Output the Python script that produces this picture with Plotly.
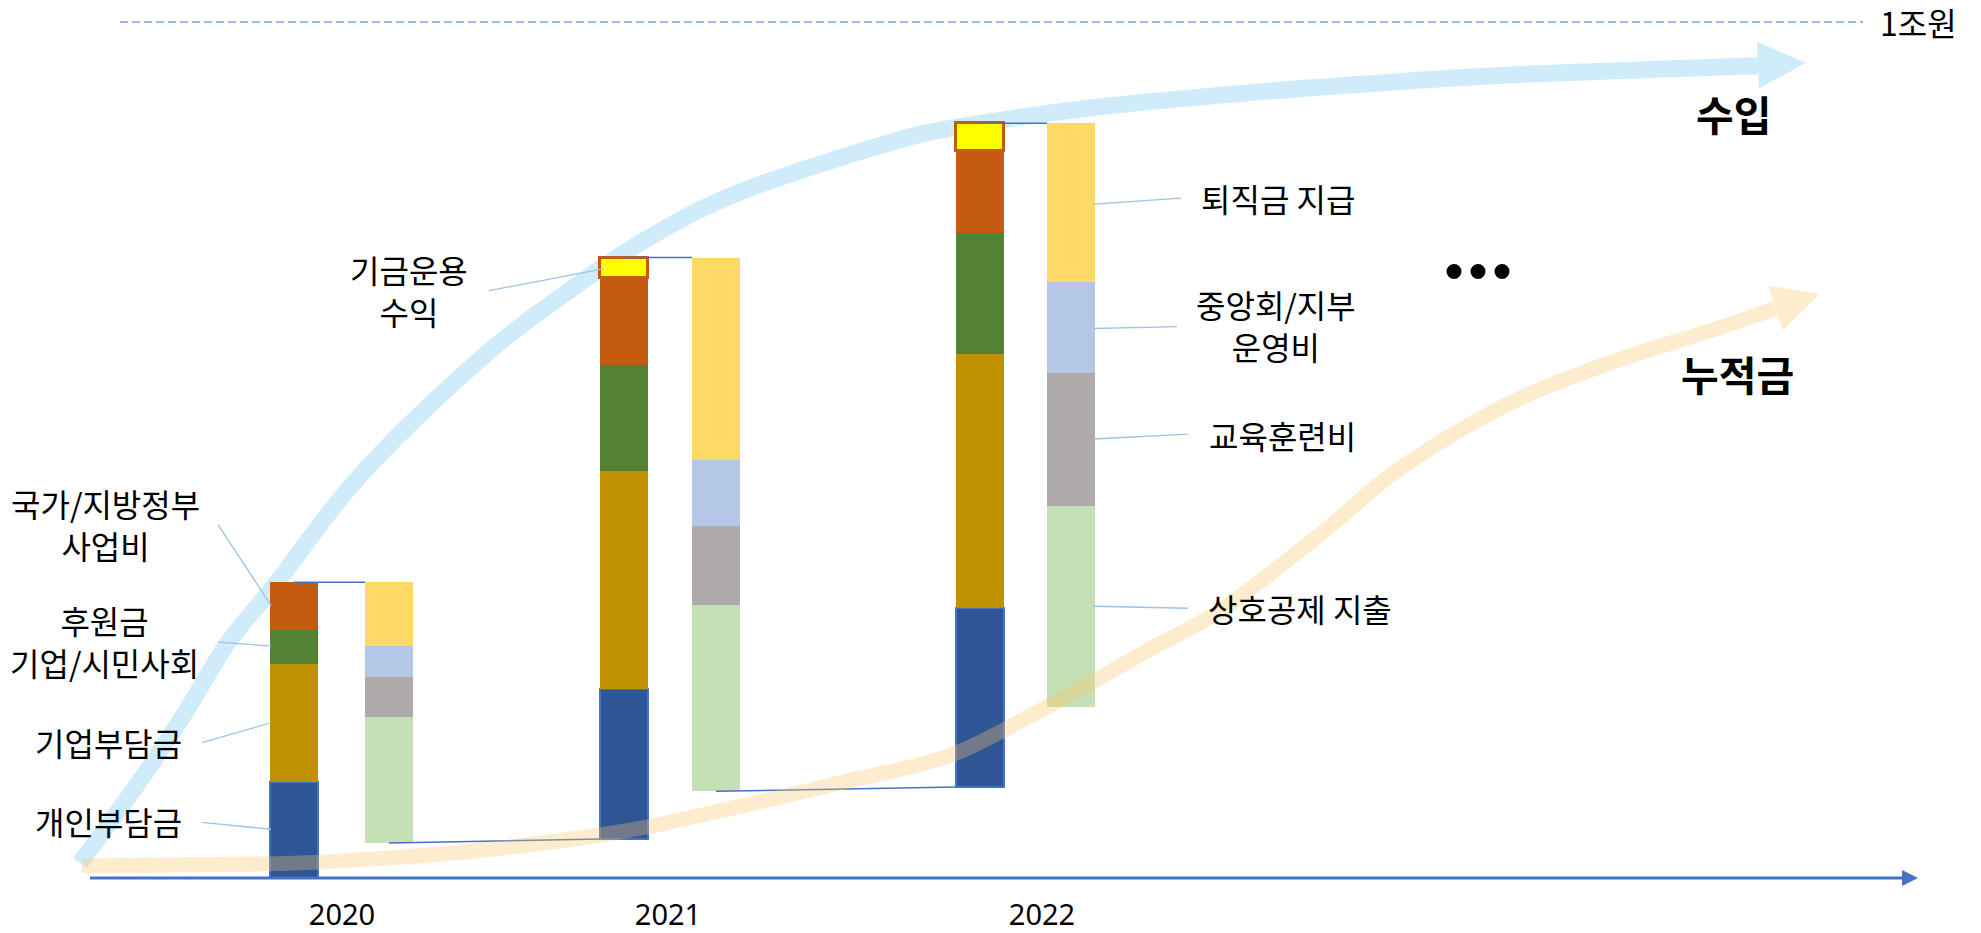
import plotly.graph_objects as go

# ---------------- data (단위: 억원, 그림에서 읽은 근사값) ----------------
years = [2020, 2021, 2022]
fund_start = [0, 455, 1064]                 # 연초 누적금 (수입 막대 시작점)
income_personal = [1120, 1754, 2092]        # 개인부담금
income_company = [1384, 2543, 2960]         # 기업부담금
income_donation = [388, 1240, 1419]         # 후원금 기업/시민사회
income_government = [562, 1022, 954]        # 국가/지방정부 사업비
income_investment = [0, 233, 326]           # 기금운용 수익
exp_retirement = [741, 2363, 1853]          # 퇴직금 지급
exp_operation = [364, 773, 1066]            # 중앙회/지부 운영비
exp_training = [465, 925, 1547]             # 교육훈련비
exp_mutual = [1474, 2172, 2349]             # 상호공제 지출
ref_line_value = 10000                      # 1조원
ref_line_label = "1조원"

# ---------------- layout constants ----------------
W, H = 1981, 933
AXIS_PY = 882          # pixel row of value 0
REF_PY = 22            # pixel row of 1조원
PLOT_BOTTOM = 893
U = ref_line_value / (AXIS_PY - REF_PY)


def v(py):
    """pixel row -> y value"""
    return (AXIS_PY - py) * U


INCOME_X = [294, 624, 980]
EXPENSE_X = [389, 716, 1071]
LABEL_X = [342, 668, 1042]
BAR_W = 48
FONT = "Noto Sans CJK KR"

fig = go.Figure()

# ---------------- income bars (stacked upward from fund_start) ----------------
income_series = [
    (income_personal, "#2F5597", "#4472C4", 2),
    (income_company, "#BF9000", "#BF9000", 0),
    (income_donation, "#548235", "#548235", 0),
    (income_government, "#C55A11", "#C55A11", 0),
    (income_investment, "#FFFF00", "#C55A11", 3),
]
cum = list(fund_start)
for vals, col, lcol, lw in income_series:
    fig.add_trace(go.Bar(
        x=INCOME_X, y=vals, base=list(cum), width=BAR_W,
        marker=dict(color=col, line=dict(color=lcol, width=[lw if val > 0 else 0 for val in vals])),
        hoverinfo="skip",
    ))
    cum = [c + val for c, val in zip(cum, vals)]
income_top = cum

# ---------------- expense bars (stacked downward from income top) ----------------
expense_series = [
    (exp_retirement, "#FFD966"),
    (exp_operation, "#B4C7E7"),
    (exp_training, "#AEAAAA"),
    (exp_mutual, "#C5E0B4"),
]
level = list(income_top)
for vals, col in expense_series:
    bases = [l - val for l, val in zip(level, vals)]
    fig.add_trace(go.Bar(
        x=EXPENSE_X, y=vals, base=bases, width=BAR_W,
        marker=dict(color=col, line=dict(width=0)),
        hoverinfo="skip",
    ))
    level = bases
expense_bottom = level

shapes = []


def smooth_path(pts):
    d = f"M {pts[0][0]},{v(pts[0][1])}"
    n = len(pts)
    for i in range(n - 1):
        p0 = pts[i - 1] if i > 0 else pts[i]
        p1 = pts[i]
        p2 = pts[i + 1]
        p3 = pts[i + 2] if i + 2 < n else pts[i + 1]
        c1 = (p1[0] + (p2[0] - p0[0]) / 6, p1[1] + (p2[1] - p0[1]) / 6)
        c2 = (p2[0] - (p3[0] - p1[0]) / 6, p2[1] - (p3[1] - p1[1]) / 6)
        d += f" C {c1[0]},{v(c1[1])} {c2[0]},{v(c2[1])} {p2[0]},{v(p2[1])}"
    return d


def poly(pts):
    return "M " + " L ".join(f"{x},{v(y)}" for x, y in pts) + " Z"


# ---------------- 수입 arrow (light blue, behind bars) ----------------
blue = "#D0ECFB"
blue_pts = [(80, 867), (143, 780), (187, 713), (227, 647), (277, 585), (358, 480),
            (473, 367), (558, 300), (647, 240), (740, 193), (884, 145), (956, 128),
            (1094, 108), (1263, 92), (1400, 82), (1516, 75), (1758, 66)]
shapes.append(dict(type="path", path=smooth_path(blue_pts), xref="x", yref="y",
                   line=dict(color=blue, width=17), layer="below"))
shapes.append(dict(type="path", path=poly([(1757, 42), (1806, 63), (1759, 89)]), xref="x", yref="y",
                   fillcolor=blue, line=dict(width=0), layer="below"))

# ---------------- dashed 1조원 line ----------------
shapes.append(dict(type="line", xref="x", yref="y", x0=120, x1=1863,
                   y0=ref_line_value, y1=ref_line_value,
                   line=dict(color="#7F9FDB", width=1.5, dash="8px,4px"), layer="below"))

# ---------------- x axis line with arrow ----------------
shapes.append(dict(type="line", xref="x", yref="y", x0=90, x1=1904, y0=0, y1=0,
                   line=dict(color="#4472C4", width=3), layer="above"))
shapes.append(dict(type="path", path=poly([(1902, 874), (1918, 882), (1902, 890)]), xref="x", yref="y",
                   fillcolor="#4472C4", line=dict(width=0), layer="above"))

# ---------------- connector lines between bars ----------------
conn = dict(color="#4472C4", width=1.5)
for i in range(len(years)):
    shapes.append(dict(type="line", xref="x", yref="y",
                       x0=INCOME_X[i], x1=EXPENSE_X[i] - BAR_W / 2,
                       y0=income_top[i], y1=income_top[i], line=conn, layer="above"))
    if i + 1 < len(years):
        shapes.append(dict(type="line", xref="x", yref="y",
                           x0=EXPENSE_X[i], x1=INCOME_X[i + 1] - BAR_W / 2,
                           y0=expense_bottom[i], y1=fund_start[i + 1], line=conn, layer="above"))

# ---------------- leader lines ----------------
lead = dict(color="#9DC3E6", width=1.3)
leaders = [((218, 527), (271, 608)), ((218, 645), (271, 649)), ((202, 746), (271, 726)),
           ((202, 826), (271, 833)), ((489, 292), (603, 270)),
           ((1094, 205), (1181, 199)), ((1094, 330), (1177, 328)),
           ((1094, 441), (1188, 436)), ((1094, 609), (1188, 611))]
for (xa, ya), (xb, yb) in leaders:
    shapes.append(dict(type="line", xref="x", yref="y", x0=xa, x1=xb, y0=v(ya), y1=v(yb),
                       line=lead, layer="above"))

# ---------------- 누적금 arrow (translucent orange, above bars) ----------------
orange = "rgba(250,197,106,0.33)"
orange_pts = [(82, 870), (200, 868.5), (294, 867), (400, 861), (500, 852), (624, 835),
              (740, 810), (850, 784), (950, 759), (1047, 710), (1094, 684), (1150, 652),
              (1222, 612), (1321, 536), (1398, 472), (1500, 410), (1600, 368),
              (1720, 329), (1775, 310)]
shapes.append(dict(type="path", path=smooth_path(orange_pts), xref="x", yref="y",
                   line=dict(color=orange, width=15), layer="above"))
shapes.append(dict(type="path", path=poly([(1768, 287), (1820, 295), (1783, 332)]), xref="x", yref="y",
                   fillcolor=orange, line=dict(width=0), layer="above"))

# ---------------- ••• dots ----------------
for cx in (1454, 1478, 1502):
    shapes.append(dict(type="circle", xref="x", yref="y", x0=cx - 7.5, x1=cx + 7.5,
                       y0=v(280.2), y1=v(265.2), fillcolor="black", line=dict(width=0)))

# ---------------- text annotations ----------------
anns = []


def label(text, px, py, size=32, bold=False):
    anns.append(dict(x=px, y=v(py), xref="x", yref="y", text=f"<b>{text}</b>" if bold else text,
                     showarrow=False, xanchor="center", yanchor="middle", align="center",
                     font=dict(family=FONT, size=size, color="black")))


label("국가/지방정부<br>사업비", 105, 526)
label("후원금<br>기업/시민사회", 104, 644)
label("기업부담금", 108, 745)
label("개인부담금", 108, 825)
label("기금운용<br>수익", 409, 291)
label("퇴직금 지급", 1278, 199)
label("중앙회/지부<br>운영비", 1276, 326)
label("교육훈련비", 1282, 437)
label("상호공제 지출", 1300, 611)
label("수입", 1733, 114, size=41, bold=True)
label("누적금", 1737, 375, size=41, bold=True)
label(ref_line_label, 1918, 22, size=32)

fig.update_layout(
    width=W, height=H,
    margin=dict(l=0, r=0, t=0, b=H - PLOT_BOTTOM, pad=0),
    paper_bgcolor="white", plot_bgcolor="white",
    barmode="overlay", bargap=0, showlegend=False,
    shapes=shapes, annotations=anns,
    xaxis=dict(range=[0, W], showgrid=False, zeroline=False, showline=False,
               tickvals=LABEL_X, ticktext=[str(y) for y in years], ticks="",
               tickfont=dict(family="Noto Sans", size=29, color="black"),
               ticklabelstandoff=6, fixedrange=True),
    yaxis=dict(range=[v(PLOT_BOTTOM), v(0)], visible=False, fixedrange=True),
)

fig.write_html("out.html", config={"displayModeBar": False},
               post_script="document.body.style.margin='0';document.body.style.overflow='hidden';")
